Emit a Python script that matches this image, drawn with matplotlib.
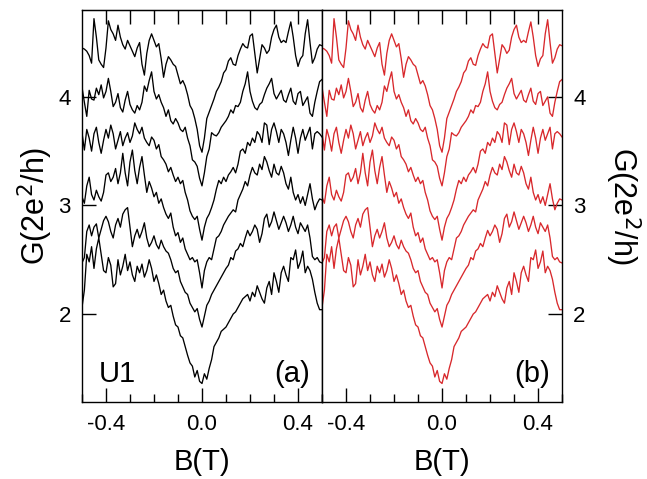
import numpy as np
import matplotlib
matplotlib.use("Agg")
import matplotlib.pyplot as plt
from matplotlib.ticker import MultipleLocator

plt.rcParams['font.family'] = ['Liberation Sans', 'DejaVu Sans']

# magnetic field axis (T), step 0.01
B = np.round(np.arange(-0.50, 0.5001, 0.01), 2)

# conductance traces G(2e^2/h), top to bottom
g1 = [4.45, 4.44, 4.42, 4.38, 4.31, 4.72, 4.55, 4.34, 4.30, 4.27,
      4.45, 4.70, 4.62, 4.58, 4.52, 4.66, 4.55, 4.48, 4.44, 4.52,
      4.47, 4.42, 4.37, 4.45, 4.50, 4.30, 4.20, 4.40, 4.52, 4.58,
      4.52, 4.46, 4.49, 4.35, 4.18, 4.30, 4.37, 4.34, 4.30, 4.28,
      4.20, 4.12, 4.15, 4.10, 4.02, 3.92, 3.88, 3.80, 3.70, 3.55,
      3.49,
      3.62, 3.80, 3.86, 3.92, 3.98, 4.05, 4.09, 4.14, 4.22, 4.25,
      4.33, 4.36, 4.30, 4.29, 4.38, 4.44, 4.49, 4.46, 4.45, 4.56,
      4.58, 4.40, 4.22, 4.35, 4.48, 4.45, 4.40, 4.43, 4.55, 4.62,
      4.66, 4.55, 4.50, 4.52, 4.50, 4.60, 4.69, 4.55, 4.38, 4.28,
      4.35, 4.38, 4.58, 4.71, 4.50, 4.31, 4.36, 4.44, 4.48, 4.47]
g2 = [4.09, 3.95, 3.82, 4.06, 3.98, 3.97, 4.08, 4.02, 4.11, 3.99,
      4.05, 4.17, 4.05, 3.91, 3.95, 4.03, 3.90, 3.86, 3.97, 4.05,
      3.93, 3.88, 3.85, 3.92, 3.88, 3.95, 4.10, 4.05, 4.15, 4.23,
      4.05, 3.98, 4.02, 3.95, 3.90, 3.82, 3.88, 3.78, 3.75, 3.80,
      3.76, 3.70, 3.68, 3.72, 3.62, 3.55, 3.42, 3.40, 3.36, 3.25,
      3.18,
      3.30, 3.45, 3.52, 3.67, 3.65, 3.64, 3.67, 3.72, 3.75, 3.78,
      3.82, 3.88, 3.85, 3.92, 3.91, 3.95, 4.05, 4.12, 4.23, 4.05,
      3.96, 3.90, 3.88, 3.93, 3.95, 4.02, 4.08, 4.12, 4.17, 4.03,
      3.98, 4.02, 4.06, 3.97, 3.95, 4.02, 4.08, 3.96, 3.93, 4.03,
      4.05, 3.92, 3.96, 4.00, 3.85, 3.82, 3.95, 4.05, 4.14, 4.16]
g3 = [3.67, 3.51, 3.70, 3.62, 3.50, 3.66, 3.72, 3.58, 3.48, 3.60,
      3.70, 3.62, 3.74, 3.66, 3.52, 3.60, 3.68, 3.55, 3.62, 3.67,
      3.58, 3.64, 3.76, 3.70, 3.66, 3.72, 3.62, 3.58, 3.55, 3.63,
      3.60, 3.52, 3.56, 3.45, 3.42, 3.38, 3.31, 3.35, 3.28, 3.22,
      3.26, 3.20, 3.23, 3.12, 3.05, 2.95, 2.90, 2.87, 2.90, 2.78,
      2.68,
      2.80, 2.88, 2.92, 2.98, 3.05, 3.15, 3.23, 3.20, 3.26, 3.22,
      3.28, 3.31, 3.35, 3.30, 3.38, 3.50, 3.52, 3.48, 3.58, 3.55,
      3.62, 3.58, 3.68, 3.65, 3.58, 3.76, 3.74, 3.56, 3.70, 3.76,
      3.68, 3.58, 3.70, 3.66, 3.58, 3.46, 3.60, 3.72, 3.62, 3.48,
      3.62, 3.70, 3.60, 3.66, 3.72, 3.52, 3.66, 3.68, 3.66, 3.63]
g4 = [3.08, 3.02, 3.18, 3.26, 3.10, 3.05, 3.14, 3.08, 3.04, 3.12,
      3.28, 3.30, 3.22, 3.26, 3.34, 3.20, 3.30, 3.48, 3.30, 3.18,
      3.40, 3.51, 3.32, 3.20, 3.35, 3.45, 3.28, 3.12, 3.22, 3.16,
      3.08, 3.12, 3.02, 3.06, 2.98, 2.92, 2.88, 2.93, 2.80, 2.72,
      2.75, 2.66, 2.70, 2.60, 2.55, 2.50, 2.52, 2.48, 2.50, 2.38,
      2.24,
      2.40, 2.48, 2.52, 2.50, 2.60, 2.70, 2.72, 2.76, 2.82, 2.86,
      2.90, 2.93, 2.96, 2.94, 3.05, 3.10, 3.15, 3.22, 3.18, 3.28,
      3.35, 3.30, 3.28, 3.38, 3.33, 3.45, 3.40, 3.32, 3.26, 3.38,
      3.30, 3.28, 3.36, 3.30, 3.20, 3.15, 3.26, 3.12, 3.05, 3.10,
      3.02, 3.08, 3.00, 3.10, 3.20, 3.06, 2.96, 3.02, 3.06, 3.05]
g5 = [2.47, 2.52, 2.76, 2.82, 2.72, 2.80, 2.83, 2.70, 2.78, 2.86,
      2.90, 2.85, 2.76, 2.70, 2.82, 2.88, 2.80, 2.92, 2.96, 2.98,
      2.80, 2.62, 2.72, 2.78, 2.70, 2.76, 2.84, 2.70, 2.62, 2.66,
      2.72, 2.64, 2.60, 2.68, 2.62, 2.58, 2.56, 2.50, 2.42, 2.38,
      2.40, 2.30, 2.25, 2.20, 2.18, 2.10, 2.06, 2.02, 2.05, 1.95,
      1.88,
      1.98, 2.08, 2.12, 2.18, 2.22, 2.26, 2.30, 2.34, 2.38, 2.42,
      2.45, 2.52, 2.50, 2.58, 2.60, 2.65, 2.62, 2.70, 2.77, 2.72,
      2.76, 2.82, 2.78, 2.66, 2.74, 2.88, 2.92, 2.80, 2.85, 2.94,
      2.86, 2.78, 2.84, 2.90, 2.84, 2.76, 2.82, 2.90, 2.80, 2.74,
      2.84, 2.80, 2.76, 2.82, 2.70, 2.53, 2.50, 2.52, 2.48, 2.47]
g6 = [2.06, 2.22, 2.55, 2.48, 2.62, 2.42, 2.60, 2.70, 2.55, 2.40,
      2.38, 2.52, 2.45, 2.25, 2.28, 2.50, 2.36, 2.44, 2.55, 2.40,
      2.48, 2.36, 2.30, 2.44, 2.38, 2.46, 2.34, 2.40, 2.50, 2.42,
      2.30, 2.36, 2.28, 2.18, 2.22, 2.12, 2.06, 2.08, 1.98, 1.90,
      1.88, 1.80, 1.78, 1.70, 1.62, 1.55, 1.52, 1.42, 1.48, 1.38,
      1.36,
      1.45, 1.40, 1.50, 1.58, 1.70, 1.74, 1.78, 1.84, 1.86, 1.88,
      1.92, 1.96, 2.00, 2.02, 2.06, 2.10, 2.14, 2.16, 2.18, 2.12,
      2.20, 2.16, 2.26, 2.20, 2.14, 2.10, 2.24, 2.30, 2.18, 2.38,
      2.30, 2.20, 2.38, 2.44, 2.36, 2.30, 2.52, 2.50, 2.59, 2.42,
      2.48, 2.58, 2.38, 2.44, 2.40, 2.32, 2.20, 2.10, 2.04, 2.04]
traces = [g1, g2, g3, g4, g5, g6]

panels = [("(a)", "black"), ("(b)", "#d8282c")]
xticks = [-0.4, 0.0, 0.4]
yticks = [2, 3, 4]

fig = plt.figure(figsize=(6.47, 4.79), dpi=100)
ax1 = fig.add_axes([0.1267, 0.1608, 0.3710, 0.8184])
ax2 = fig.add_axes([0.4977, 0.1608, 0.3710, 0.8184])

for ax, (tag, col) in zip([ax1, ax2], panels):
    for g in traces:
        ax.plot(B, g, color=col, lw=0.95)
    ax.set_xlim(-0.5, 0.5)
    ax.set_ylim(1.19, 4.80)
    ax.set_xticks(xticks)
    ax.set_xticklabels(["-0.4", "0.0", "0.4"])
    ax.xaxis.set_minor_locator(MultipleLocator(0.1))
    ax.tick_params(axis='x', which='major', direction='in', length=10, width=1,
                   labelsize=16, pad=9)
    ax.tick_params(axis='x', which='minor', direction='in', length=6, width=1)
    top = ax.secondary_xaxis('top')
    top.set_xticks(np.arange(-0.4, 0.45, 0.1))
    top.tick_params(direction='in', length=10, width=1, labelsize=0)
    top.set_xticklabels([])
    ax.set_yticks(yticks)
    ax.set_xlabel("B(T)", fontsize=21)
    ax.xaxis.set_label_coords(0.5, -0.117)
    ax.text(0.95, 0.05, tag, transform=ax.transAxes, fontsize=21,
            ha='right', va='baseline')
    for s in ax.spines.values():
        s.set_linewidth(1.0)

ax1.tick_params(axis='y', direction='in', length=10, width=1, labelsize=16,
                left=True, right=False, pad=8)
ax1.text(0.07, 0.05, "U1", transform=ax1.transAxes, fontsize=21,
         ha='left', va='baseline')

ax2.yaxis.tick_right()
ax2.tick_params(axis='y', direction='in', length=10, width=1, labelsize=16,
                left=False, right=True, pad=8)

# y labels on both outer sides
fig.text(0.054, 0.57, "G(2e$^2$/h)", fontsize=22, rotation=90,
         ha='center', va='center')
fig.text(0.962, 0.57, "G(2e$^2$/h)", fontsize=22, rotation=270,
         ha='center', va='center')

fig.savefig("out.png", dpi=100)
